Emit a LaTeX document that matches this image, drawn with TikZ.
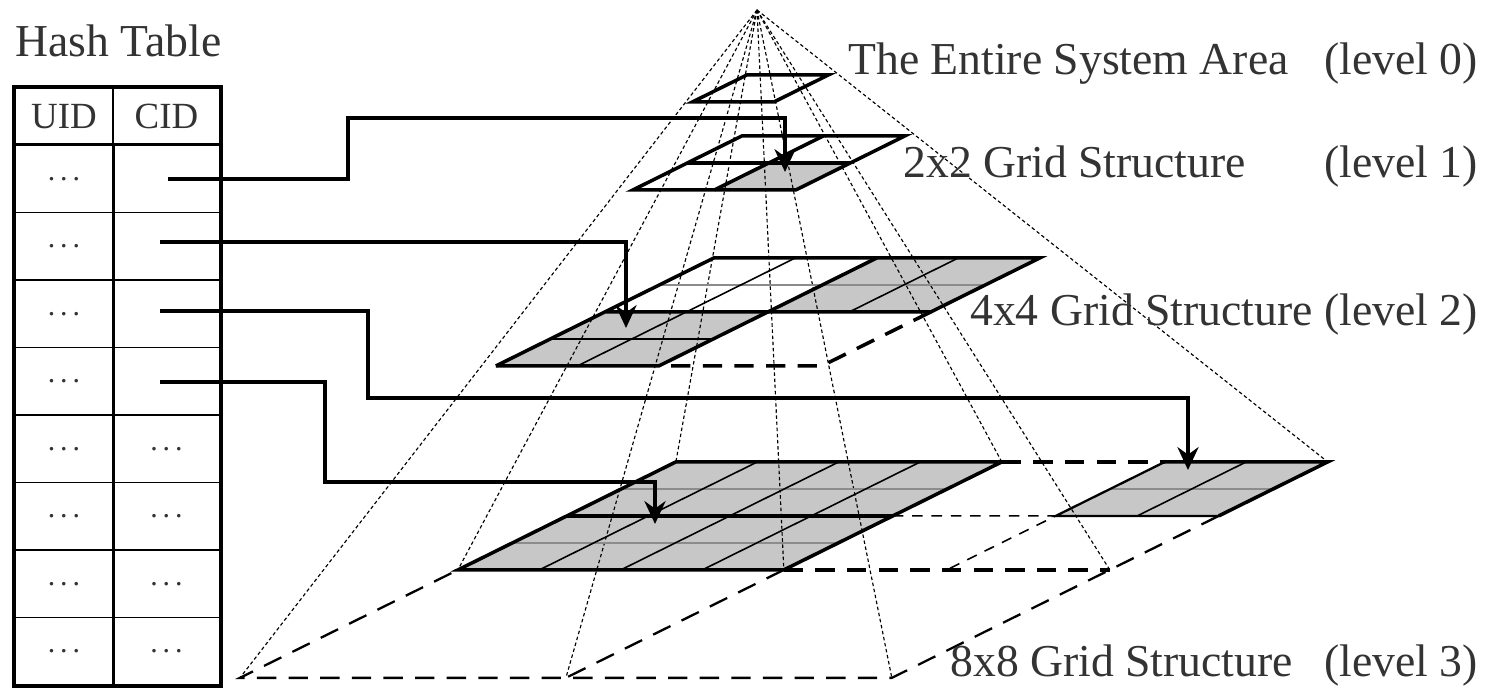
\documentclass[tikz,border=0pt]{standalone}
\usepackage{fontspec}
\setmainfont{Liberation Serif}
\usetikzlibrary{arrows.meta}

\begin{document}
\begin{tikzpicture}[x=0.02cm, y=-0.02cm,
  txt/.style={text=black!80, font=\fontsize{26}{30}\selectfont, inner sep=0pt},
  cell/.style={draw, line width=0.85pt, inner sep=0pt, minimum height=1.35cm, text=black!80, font=\fontsize{17}{18}\selectfont},
  hdr/.style={cell, minimum height=1.14cm, font=\fontsize{21}{24}\selectfont},
  lvl/.style={x={(1.63cm,0cm)}, y={(-1.09cm,-0.54cm)}},
  shade/.style={fill=black!22},
  edge/.style={line width=2pt},
  medge/.style={line width=1.3pt},
  inner/.style={line width=0.9pt},
  innergray/.style={line width=1.2pt, black!45},
  dedge/.style={line width=2pt, dash pattern=on 11pt off 7pt},
  mdash/.style={line width=1.3pt, dash pattern=on 11pt off 7pt},
  tdash/.style={line width=0.9pt, dash pattern=on 6pt off 5pt},
  pyr/.style={line width=0.65pt, dash pattern=on 2pt off 1.5pt},
  arr/.style={-{Stealth[length=13pt, width=12pt]}, line width=2pt}
]
\useasboundingbox (0,0) rectangle (1488,689);

% hash table
\node[txt, anchor=base west] (title) at (15,57) {Hash Table};
\node[hdr, minimum width=1.96cm] (uid0) at (64,116.5) {UID};
\node[hdr, minimum width=2.14cm] (cid0) at (166.5,116.5) {CID};
\foreach \i in {1,...,8}
  \node[cell, minimum width=1.96cm] (uid\i) at (64,{111.25+67.5*\i}) {.\,.\,.};
\foreach \i in {1,...,4}
  \node[cell, minimum width=2.14cm] (cid\i) at (166.5,{111.25+67.5*\i}) {};
\foreach \i in {5,...,8}
  \node[cell, minimum width=2.14cm] (cid\i) at (166.5,{111.25+67.5*\i}) {.\,.\,.};
\draw[line width=2.4pt] (uid0.north west) rectangle (cid8.south east);
\draw[edge] (uid1.north west) -- (cid1.north east);
\draw[edge] (uid1.north east) -- (uid8.south east);

% shaded cells
\begin{scope}[shift={(13.52cm,-9.24cm)}, lvl]
  \fill[shade] (0,0) -- (4,0) -- (4,4) -- (0,4) -- cycle;
  \fill[shade] (6,0) -- (8,0) -- (8,2) -- (6,2) -- cycle;
  \foreach \i in {0,4,8}
    \foreach \j in {0,4,8}
      \coordinate (p\i\j) at (\i,\j);
\end{scope}
\begin{scope}[shift={(14.28cm,-5.16cm)}, lvl]
  \fill[shade] (2,0) -- (4,0) -- (4,2) -- (2,2) -- cycle;
  \fill[shade] (0,2) -- (2,2) -- (2,4) -- (0,4) -- cycle;
\end{scope}
\begin{scope}[shift={(14.84cm,-2.72cm)}, lvl]
  \fill[shade] (1,1) -- (2,1) -- (2,2) -- (1,2) -- cycle;
\end{scope}

% pyramid
\coordinate (apex) at (757,10);
\foreach \p in {p00,p40,p80,p04,p44,p84,p08,p48,p88}
  \draw[pyr] (apex) -- (\p);

% level 3
\begin{scope}[shift={(13.52cm,-9.24cm)}, lvl]
  \foreach \j in {1,3} \draw[innergray] (0,\j) -- (4,\j);
  \draw[innergray] (6,1) -- (8,1);
  \foreach \i in {1,2,3} \draw[inner] (\i,0) -- (\i,4);
  \draw[inner] (7,0) -- (7,2);
  \draw[edge] (4,0) -- (0,0) -- (0,4) -- (4,4) -- cycle;
  \draw[edge] (0,2) -- (4,2);
  \draw[edge] (6,0) -- (8,0) -- (8,2);
  \draw[medge] (6,0) -- (6,2) -- (8,2);
  \draw[dedge] (4,0) -- (6,0);
  \draw[dedge] (4,4) -- (8,4);
  \draw[tdash] (4,2) -- (6,2) -- (6,4);
  \draw[mdash] (8,2) -- (8,8) -- (0,8) -- (0,4);
  \draw[mdash] (4,4) -- (4,8);
\end{scope}

% level 2
\begin{scope}[shift={(14.28cm,-5.16cm)}, lvl]
  \draw[innergray] (0,1) -- (4,1);
  \draw[inner] (1,0) -- (1,4);
  \draw[inner] (3,0) -- (3,2);
  \draw[inner] (0,3) -- (2,3);
  \draw[edge] (0,4) -- (0,0) -- (4,0) -- (4,2) -- (0,2);
  \draw[edge] (2,0) -- (2,4) -- (0,4);
  \draw[dedge] (4,2) -- (4,4) -- (2,4);
\end{scope}

% level 1
\begin{scope}[shift={(14.84cm,-2.72cm)}, lvl]
  \draw[edge] (0,0) -- (2,0) -- (2,2) -- (0,2) -- cycle;
  \draw[edge] (1,0) -- (1,2);
  \draw[edge] (0,1) -- (2,1);
\end{scope}

% level 0
\begin{scope}[shift={(14.94cm,-1.5cm)}, lvl]
  \draw[edge] (0,0) -- (1,0) -- (1,1) -- (0,1) -- cycle;
\end{scope}

% pointers
\coordinate (src1) at (168,179);
\coordinate (src2) at (160,242);
\coordinate (src3) at (160,311);
\coordinate (src4) at (160,382);
\coordinate (bend1) at (348,118);
\coordinate (bend3) at (368,398);
\coordinate (bend4) at (325,482);
\coordinate (tgt1) at (785,172);
\coordinate (tgt2) at (626,328);
\coordinate (tgt3) at (1188,470);
\coordinate (tgt4) at (655,524);
\draw[arr] (src1) -| (bend1) -| (tgt1);
\draw[arr] (src2) -| (tgt2);
\draw[arr] (src3) -| (bend3) -| (tgt3);
\draw[arr] (src4) -| (bend4) -| (tgt4);

% labels
\node[txt, anchor=base west] (lab0) at (848,75) {The Entire System Area};
\node[txt, anchor=base east] (lev0) at (1478,75) {(level 0)};
\node[txt, anchor=base west] (lab1) at (903,178) {2x2 Grid Structure};
\node[txt, anchor=base east] (lev1) at (1478,178) {(level 1)};
\node[txt, anchor=base east] (lab2) at (1478,326) {4x4 Grid Structure (level 2)};
\node[txt, anchor=base west] (lab3) at (950,676) {8x8 Grid Structure};
\node[txt, anchor=base east] (lev3) at (1478,676) {(level 3)};
\end{tikzpicture}
\end{document}
